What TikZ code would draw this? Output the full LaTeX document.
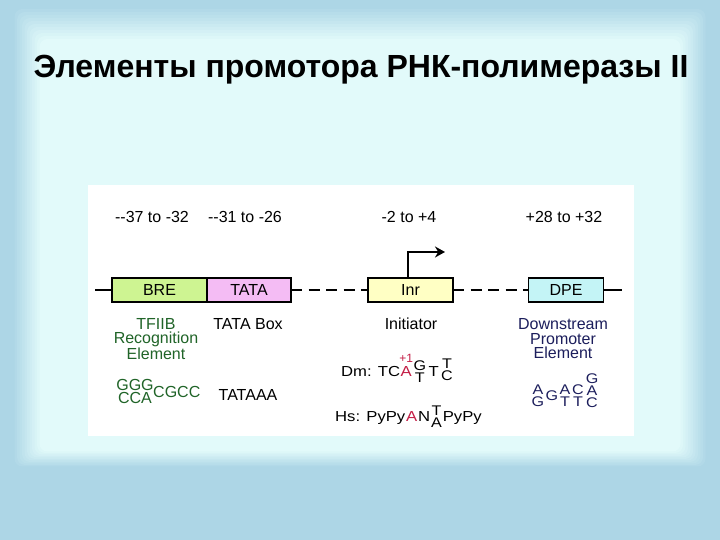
\documentclass[tikz,border=0pt]{standalone}
\usepackage{fontspec}
\setmainfont{Liberation Sans}
\newfontfamily\seqfont[FakeStretch=1.15]{Liberation Sans}
\usetikzlibrary{positioning,arrows.meta,calc}

\definecolor{bgout}{RGB}{173,214,230}
\definecolor{bgin}{RGB}{226,250,250}
\definecolor{bregreen}{RGB}{206,244,146}
\definecolor{tatapink}{RGB}{244,188,244}
\definecolor{inryellow}{RGB}{255,255,196}
\definecolor{dpecyan}{RGB}{196,244,246}
\definecolor{bretext}{RGB}{32,100,40}
\definecolor{dpetext}{RGB}{28,30,92}
\definecolor{inrred}{RGB}{196,30,70}

\begin{document}
\begin{tikzpicture}[x=1pt, y=1pt,
      lbl/.style={font=\fontsize{16}{14.5}\selectfont, align=center, inner sep=0pt},
      box/.style={draw, line width=1.8pt, outer sep=0pt, minimum height=24pt, font=\fontsize{16}{18}\selectfont},
      dna/.style={line width=2.8pt},
      dnadash/.style={dna, dash pattern=on 11pt off 6.5pt},
      seq/.style={inner sep=0pt, font=\seqfont\fontsize{14.5}{17}\selectfont, text height=12pt, text depth=2pt},
      bseq/.style={inner sep=0pt, font=\fontsize{16}{18}\selectfont, text height=12pt, text depth=0pt},
      stack/.style={inner sep=0pt, align=center, font=\seqfont\fontsize{14}{12}\selectfont},
      tss/.style={line width=1.8pt, -{Stealth[length=10pt, width=11pt]}},
    ]
    \useasboundingbox (0,0) rectangle (720,540);

    % slide background
    \fill[bgout] (0,0) rectangle (720,540);
    \foreach \i in {0,...,11}{
      \pgfmathsetmacro\mixp{\i*100/11}
      \fill[bgin!\mixp!bgout, rounded corners=8pt] (12+2.5*\i,72+1.5*\i) rectangle (708-2.5*\i,534-3*\i);
    }
    \node[font=\fontsize{32}{38}\selectfont\bfseries] (title) at (361,470) {Элементы промотора РНК-полимеразы II};

    \fill[white] (88,104) rectangle (634,355);

    % promoter elements
    \node[box, fill=bregreen, minimum width=95pt] (bre) at (159.5,250) {BRE};
    \node[box, fill=tatapink, minimum width=84pt, right=0pt of bre] (tata) {TATA};
    \node[box, fill=inryellow, minimum width=85pt] (inr) at (410.5,250) {Inr};
    \node[box, fill=dpecyan, minimum width=75pt] (dpe) at (566,250) {DPE};
    \coordinate (dnal) at (95,250);
    \coordinate (dnar) at (622,250);
    \draw[dna] (dnal) -- (bre);
    \draw[dnadash] (tata) -- (inr);
    \draw[dnadash] (inr) -- (dpe);
    \draw[dna] (dpe) -- (dnar);

    \coordinate (tsstip) at (445,288);
    \draw[tss] ([xshift=-2.5pt]inr.north) |- (tsstip);

    % positions
    \node[lbl] (posbre) at (152,323) {-{}-37 to -32};
    \node[lbl] (postata) at (245,323) {-{}-31 to -26};
    \node[lbl] (posinr) at (409,323) {-2 to +4};
    \node[lbl] (posdpe) at (564,323) {+28 to +32};

    % names
    \node[lbl, text=bretext] (namebre) at (156,201) {TFIIB\\Recognition\\Element};
    \node[lbl] (nametata) at (248,216) {TATA Box};
    \node[lbl] (nameinr) at (411,216) {Initiator};
    \node[lbl, text=dpetext] (namedpe) at (563,201) {Downstream\\Promoter\\Element};

    % consensus sequences
    \node[bseq, text=bretext] (bregg) at (135,155) {GGG};
    \node[bseq, text=bretext] (breca) at (135,142) {CCA};
    \node[bseq, text=bretext, anchor=west] (brecg) at (153,148.5) {CGCC};
    \node[bseq] (tataseq) at (248,145) {TATAAA};

    \node[seq, anchor=west] (dm) at (341,168) {Dm: TC};
    \node[seq, text=inrred, right=0pt of dm] (dma) {A};
    \node[font=\fontsize{12}{14}\selectfont, text=inrred, inner sep=0pt, above=2pt of dma] (plusone) {+1};
    \node[stack, right=1.5pt of dma] (dmgt) {G\\T};
    \node[seq, right=2pt of dmgt] (dmt) {T};
    \node[stack, right=2pt of dmt, yshift=2pt] (dmtc) {T\\C};

    \node[seq, anchor=west] (hs) at (335,123) {Hs: PyPy};
    \node[seq, text=inrred, right=0.5pt of hs] (hsa) {A};
    \node[seq, right=0.5pt of hsa] (hsn) {N};
    \node[stack, right=0.5pt of hsn] (hsta) {T\\A};
    \node[seq, right=0.5pt of hsta] (hspy) {PyPy};

    \node[stack, text=dpetext] (dpeag) at (538,144) {A\\G};
    \node[stack, text=dpetext, right=1pt of dpeag] (dpeg) {G};
    \node[stack, text=dpetext, right=1pt of dpeg] (dpeat) {A\\T};
    \node[stack, text=dpetext, right=1.5pt of dpeat] (dpect) {C\\T};
    \node[stack, text=dpetext, right=1.5pt of dpect, yshift=5pt] (dpegac) {G\\A\\C};
  \end{tikzpicture}
\end{document}
